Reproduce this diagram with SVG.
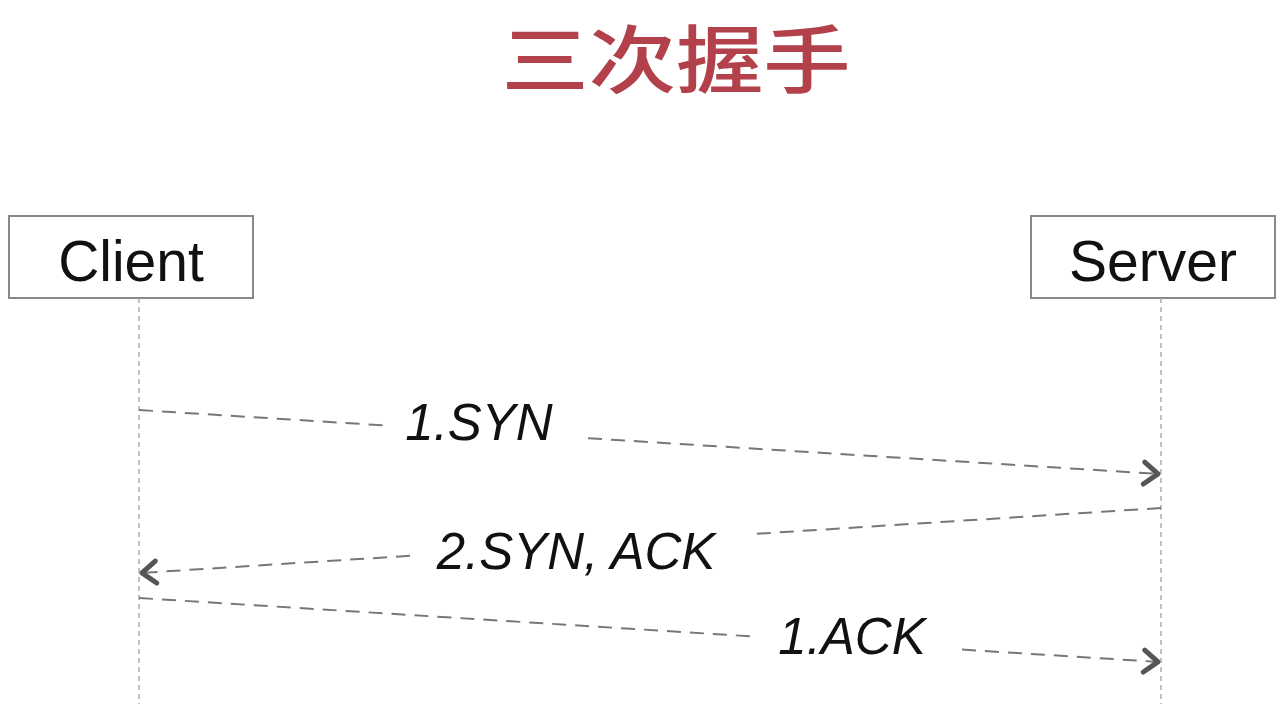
<svg xmlns="http://www.w3.org/2000/svg" width="1286" height="704" viewBox="0 0 1286 704">
<style>
.title{font-family:"Noto Sans CJK SC","Noto Sans",sans-serif;font-weight:500;font-size:74px;fill:#b3414b;text-anchor:middle}
.box{fill:#fff;stroke:#888;stroke-width:2}
.name{font-family:"Liberation Sans",Arial,sans-serif;font-size:57px;fill:#111;text-anchor:middle}
.life{stroke:#aaa;stroke-width:1.5;stroke-dasharray:5 4;fill:none}
.msg{stroke:#777;stroke-width:2;stroke-dasharray:14 9;fill:none}
.lbl{font-family:"Liberation Sans",Arial,sans-serif;font-style:italic;font-size:51px;fill:#111;text-anchor:middle}
</style>
<defs>
<marker id="head" markerUnits="userSpaceOnUse" viewBox="-20 -16 24 32" markerWidth="24" markerHeight="32" refX="0" refY="0" orient="auto">
<path d="M -14 -11 L 0 0 L -14 11" fill="none" stroke="#555" stroke-width="5" stroke-linecap="round" stroke-linejoin="round"/>
</marker>
</defs>
<rect width="1286" height="704" fill="#fff"/>
<text class="title" transform="translate(676,87) scale(1.18,1)" x="0" y="0">三次握手</text>
<g id="client">
<rect class="box" x="9" y="216" width="244" height="82"/>
<text class="name" x="131" y="281">Client</text>
<line class="life" x1="139" y1="298" x2="139" y2="704"/>
</g>
<g id="server">
<rect class="box" x="1031" y="216" width="244" height="82"/>
<text class="name" x="1153" y="281">Server</text>
<line class="life" x1="1161" y1="298" x2="1161" y2="704"/>
</g>
<g id="connectors">
<line class="msg" x1="139" y1="410" x2="383" y2="425.3"/>
<line class="msg" x1="588" y1="438.2" x2="1158" y2="473.9" marker-end="url(#head)"/>
<text class="lbl" x="479" y="440">1.SYN</text>
<line class="msg" x1="1161" y1="508" x2="755" y2="533.9"/>
<line class="msg" x1="410" y1="555.8" x2="142" y2="572.9" marker-end="url(#head)"/>
<text class="lbl" x="576" y="569">2.SYN, ACK</text>
<line class="msg" x1="139" y1="598" x2="757" y2="636.7"/>
<line class="msg" x1="962" y1="649.6" x2="1158" y2="661.9" marker-end="url(#head)"/>
<text class="lbl" x="852" y="654">1.ACK</text>
</g>
</svg>
